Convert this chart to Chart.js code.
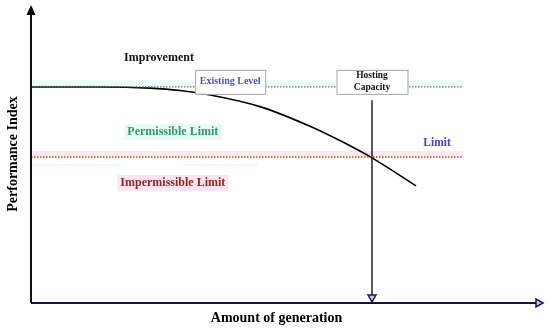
<!DOCTYPE html>
<html>
<head>
<meta charset="utf-8">
<script src="https://cdn.jsdelivr.net/npm/chart.js@4.4.0/dist/chart.umd.min.js"></script>
<style>
  body { margin: 0; background: #fff; }
  canvas { display: block; }
</style>
</head>
<body>
<canvas id="chart" width="550" height="329"></canvas>
<script>
// performance index curve vs amount of generation (0-100 both ways)
const curveX = [0, 13.5, 23.2, 29.1, 35.0, 44.7, 54.5, 60.9, 66.6, 75.2];
const curveY = [72.5, 72.5, 72.1, 71.3, 69.8, 65.9, 59.3, 54.0, 48.7, 39.3];
const existingLevel = 72.5;
const limitLevel = 49.0;
const hostingCapacity = 66.6;
const hostingTop = 68;
const levelStart = 0;
const levelEnd = 84.4;
const ghostLevel = 46.3;
const ghostX = [0, 17.4, 29.9, 44.3];

const axisTitles = { x: "Amount of generation", y: "Performance Index" };

let curve = [];
curveX.forEach((x, i) => curve.push({ x: x, y: curveY[i] }));

const serif = '"Liberation Serif", "Times New Roman", serif';

function px(chart, x, y) {
    return [chart.scales.x.getPixelForValue(x), chart.scales.y.getPixelForValue(y)];
}

function label(ctx, text, x, y, color, size, bg, padX, padY) {
    ctx.font = "bold " + size + "px " + serif;
    let w = ctx.measureText(text).width;
    if (bg) {
        ctx.fillStyle = bg;
        ctx.fillRect(x - w / 2 - padX, y - size / 2 - padY, w + padX * 2, size + padY * 2);
    }
    ctx.fillStyle = color;
    ctx.textAlign = "center";
    ctx.textBaseline = "middle";
    ctx.fillText(text, x, y);
}

const decor = {
    id: "decor",
    beforeDatasetsDraw(chart) {
        const ctx = chart.ctx;
        ctx.save();
        // soft bands above the two level lines
        let [x1, yTop] = px(chart, levelStart, existingLevel + 2.2);
        let [x2, yBot] = px(chart, levelEnd, existingLevel + 0.3);
        ctx.fillStyle = "#e8fbf9";
        ctx.fillRect(x1 + 2, yTop, x2 - x1 - 2, yBot - yTop);
        [x1, yTop] = px(chart, levelStart, limitLevel + 2.0);
        [x2, yBot] = px(chart, levelEnd, limitLevel + 0.2);
        ctx.fillStyle = "#fde8f2";
        ctx.fillRect(x1 + 2, yTop, x2 - x1 - 2, yBot - yTop);
        ctx.restore();
    },
    afterDatasetsDraw(chart) {
        const ctx = chart.ctx;
        const a = chart.chartArea;
        ctx.save();

        // axes with arrow heads
        ctx.lineWidth = 2;
        ctx.beginPath();
        ctx.moveTo(a.left, a.top + 6);
        ctx.lineTo(a.left, a.bottom);
        ctx.strokeStyle = "#111";
        ctx.stroke();
        ctx.beginPath();
        ctx.moveTo(a.left, a.bottom);
        ctx.lineTo(a.right - 6, a.bottom);
        ctx.strokeStyle = "#15153a";
        ctx.stroke();

        ctx.fillStyle = "#000";
        ctx.beginPath();
        ctx.moveTo(a.left, a.top);
        ctx.lineTo(a.left - 4.5, a.top + 10);
        ctx.lineTo(a.left + 4.5, a.top + 10);
        ctx.closePath();
        ctx.fill();

        ctx.fillStyle = "#c8c8ee";
        ctx.strokeStyle = "#1a1a55";
        ctx.lineWidth = 1.5;
        ctx.beginPath();
        ctx.moveTo(a.right, a.bottom);
        ctx.lineTo(a.right - 7, a.bottom - 4);
        ctx.lineTo(a.right - 7, a.bottom + 4);
        ctx.closePath();
        ctx.fill();
        ctx.stroke();

        // arrow head of hosting capacity line
        let [hx, hy] = px(chart, hostingCapacity, 0);
        ctx.beginPath();
        ctx.moveTo(hx, hy - 1);
        ctx.lineTo(hx - 4, hy - 8);
        ctx.lineTo(hx + 4, hy - 8);
        ctx.closePath();
        ctx.fill();
        ctx.stroke();

        // boxes
        ctx.lineWidth = 1;
        ctx.strokeStyle = "#a8a8a8";
        let [ex, ey] = px(chart, 38.9, existingLevel + 1.7);
        ctx.fillStyle = "#fff";
        ctx.fillRect(ex - 35, ey - 12, 70, 24);
        ctx.strokeRect(ex - 35 + 0.5, ey - 12 + 0.5, 70, 24);
        label(ctx, "Existing Level", ex, ey, "#4a55b5", 10);

        let [cx, cy] = px(chart, hostingCapacity, existingLevel + 1.7);
        ctx.fillStyle = "#fff";
        ctx.fillRect(cx - 35.5, cy - 12, 71, 24);
        ctx.strokeStyle = "#a8a8a8";
        ctx.strokeRect(cx - 35.5 + 0.5, cy - 12 + 0.5, 71, 24);
        label(ctx, "Hosting", cx, cy - 6, "#111", 9.5);
        label(ctx, "Capacity", cx, cy + 6, "#111", 9.5);

        // region labels
        let [ix, iy] = px(chart, 25.0, 82.2);
        label(ctx, "Improvement", ix, iy, "#111", 12);
        let [pxx, pyy] = px(chart, 27.7, 57.4);
        label(ctx, "Permissible Limit", pxx, pyy, "#2f9e60", 12, "#e6fbf8", 3, 2);
        let [lx, ly] = px(chart, 79.3, 53.7);
        label(ctx, "Limit", lx, ly, "#4545b5", 11.5);
        let [qx, qy] = px(chart, 27.7, 40.3);
        label(ctx, "Impermissible Limit", qx, qy, "#8b2a22", 12, "#fde4f0", 3, 2);

        // axis titles
        ctx.font = "bold 14px " + serif;
        ctx.fillStyle = "#000";
        ctx.textAlign = "center";
        ctx.textBaseline = "middle";
        ctx.fillText(axisTitles.x, 276.5, a.bottom + 15);
        ctx.translate(13, (a.top + a.bottom) / 2);
        ctx.rotate(-Math.PI / 2);
        ctx.fillText(axisTitles.y, 0, 0);
        ctx.restore();
    }
};

new Chart(document.getElementById("chart"), {
    type: "scatter",
    data: {
        datasets: [
            {
                data: [{ x: ghostX[0], y: ghostLevel }, { x: ghostX[1], y: ghostLevel }, { x: ghostX[1], y: null },
                       { x: ghostX[2], y: ghostLevel }, { x: ghostX[3], y: ghostLevel }],
                showLine: true,
                borderColor: "rgba(40, 200, 230, 0.45)",
                borderWidth: 1,
                borderDash: [1, 1.5],
                pointRadius: 0,
                spanGaps: false
            },
            {
                data: [{ x: levelStart, y: existingLevel }, { x: levelEnd, y: existingLevel }],
                showLine: true,
                borderColor: "#3d8a3a",
                borderWidth: 1.2,
                borderDash: [1.5, 1.5],
                pointRadius: 0
            },
            {
                data: [{ x: levelStart, y: limitLevel }, { x: levelEnd, y: limitLevel }],
                showLine: true,
                borderColor: "#b0452a",
                borderWidth: 1.5,
                borderDash: [1.5, 1.5],
                pointRadius: 0
            },
            {
                data: curve,
                showLine: true,
                borderColor: "#000",
                borderWidth: 1.6,
                cubicInterpolationMode: "monotone",
                pointRadius: 0
            },
            {
                data: [{ x: hostingCapacity, y: hostingTop }, { x: hostingCapacity, y: 0 }],
                showLine: true,
                borderColor: "#000",
                borderWidth: 1.3,
                pointRadius: 0
            }
        ]
    },
    options: {
        responsive: false,
        animation: false,
        devicePixelRatio: 1,
        layout: { padding: { left: 31, right: 7, top: 5, bottom: 26 } },
        plugins: { legend: { display: false }, tooltip: { enabled: false } },
        scales: {
            x: { type: "linear", min: 0, max: 100, display: false },
            y: { type: "linear", min: 0, max: 100, display: false }
        }
    },
    plugins: [decor]
});
</script>
</body>
</html>
